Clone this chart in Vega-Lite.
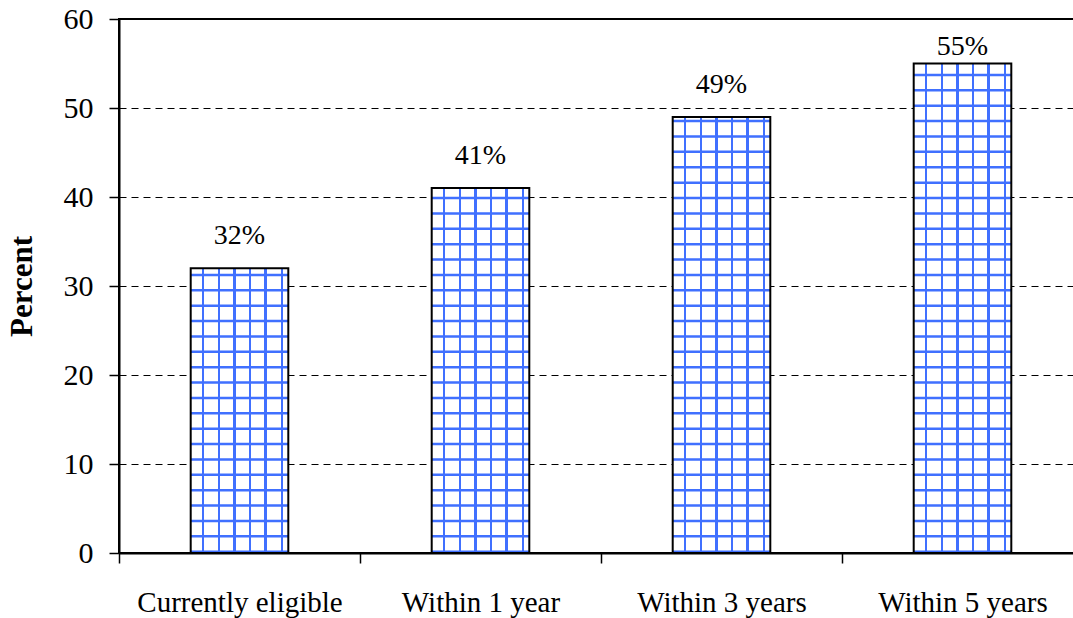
{
  "$schema": "https://vega.github.io/schema/vega-lite/v6.json",
  "width": 964,
  "height": 534,
  "autosize": {"type": "none"},
  "padding": {"left": 119, "top": 19, "right": 0, "bottom": 65},
  "background": "white",
  "config": {
    "view": {"stroke": "black", "strokeWidth": 2},
    "font": "Liberation Serif"
  },
  "data": {
    "values": [
      {"category": "Currently eligible", "value": 32, "label": "32%"},
      {"category": "Within 1 year", "value": 41, "label": "41%"},
      {"category": "Within 3 years", "value": 49, "label": "49%"},
      {"category": "Within 5 years", "value": 55, "label": "55%"}
    ]
  },
  "encoding": {
    "x": {
      "field": "category",
      "type": "nominal",
      "sort": null,
      "scale": {"paddingInner": 0, "paddingOuter": 0},
      "axis": {
        "title": null,
        "labelAngle": 0,
        "labelFont": "Liberation Serif",
        "labelFontSize": 29,
        "labelColor": "black",
        "labelPadding": 25,
        "labelLimit": 0,
        "tickBand": "extent",
        "tickSize": 10,
        "tickColor": "black",
        "tickWidth": 1.5,
        "domainColor": "black",
        "domainWidth": 2,
        "grid": false
      }
    }
  },
  "layer": [
    {
      "mark": {
        "type": "bar",
        "width": 97.6,
        "fill": {
          "gradient": "linear",
          "x1": 0, "x2": 1, "y1": 0, "y2": 0,
          "stops": [
            {"offset": 0, "color": "#ffffff"},
            {"offset": 0.115, "color": "#ffffff"},
            {"offset": 0.115, "color": "#4070ff"},
            {"offset": 0.141, "color": "#4070ff"},
            {"offset": 0.141, "color": "#ffffff"},
            {"offset": 0.277, "color": "#ffffff"},
            {"offset": 0.277, "color": "#4070ff"},
            {"offset": 0.303, "color": "#4070ff"},
            {"offset": 0.303, "color": "#ffffff"},
            {"offset": 0.438, "color": "#ffffff"},
            {"offset": 0.438, "color": "#4070ff"},
            {"offset": 0.464, "color": "#4070ff"},
            {"offset": 0.464, "color": "#ffffff"},
            {"offset": 0.595, "color": "#ffffff"},
            {"offset": 0.595, "color": "#4070ff"},
            {"offset": 0.621, "color": "#4070ff"},
            {"offset": 0.621, "color": "#ffffff"},
            {"offset": 0.755, "color": "#ffffff"},
            {"offset": 0.755, "color": "#4070ff"},
            {"offset": 0.781, "color": "#4070ff"},
            {"offset": 0.781, "color": "#ffffff"},
            {"offset": 0.921, "color": "#ffffff"},
            {"offset": 0.921, "color": "#4070ff"},
            {"offset": 0.947, "color": "#4070ff"},
            {"offset": 0.947, "color": "#ffffff"},
            {"offset": 1, "color": "#ffffff"}
          ]
        }
      },
      "encoding": {
        "y": {
          "field": "value",
          "type": "quantitative",
          "scale": {"domain": [0, 60], "nice": false},
          "axis": {
            "title": "Percent",
            "titleFont": "Liberation Serif",
            "titleFontSize": 31,
            "titleFontWeight": "bold",
            "titleColor": "black",
            "titleAngle": -90,
            "titleAlign": "center",
            "titleBaseline": "middle",
            "titleX": -97,
            "titleY": 267,
            "values": [0, 10, 20, 30, 40, 50, 60],
            "labelFont": "Liberation Serif",
            "labelFontSize": 30,
            "labelColor": "black",
            "labelPadding": 16,
            "tickSize": 10,
            "tickColor": "black",
            "tickWidth": 1.5,
            "domainColor": "black",
            "domainWidth": 2,
            "grid": true,
            "gridColor": "black",
            "gridWidth": 1,
            "gridDash": [7, 5]
          }
        }
      }
    },
    {
      "transform": [{"filter": "datum.value == 32"}],
      "mark": {"type": "rule", "strokeWidth": 97.6, "strokeCap": "butt", "stroke": "#4070ff", "strokeDash": [2.5, 12.88], "strokeDashOffset": 9.92},
      "encoding": {"y": {"field": "value", "type": "quantitative"}, "y2": {"datum": 0}}
    },
    {
      "transform": [{"filter": "datum.value == 41"}],
      "mark": {"type": "rule", "strokeWidth": 97.6, "strokeCap": "butt", "stroke": "#4070ff", "strokeDash": [2.5, 12.88], "strokeDashOffset": 6.72},
      "encoding": {"y": {"field": "value", "type": "quantitative"}, "y2": {"datum": 0}}
    },
    {
      "transform": [{"filter": "datum.value == 49"}],
      "mark": {"type": "rule", "strokeWidth": 97.6, "strokeCap": "butt", "stroke": "#4070ff", "strokeDash": [2.5, 12.88], "strokeDashOffset": 12.42},
      "encoding": {"y": {"field": "value", "type": "quantitative"}, "y2": {"datum": 0}}
    },
    {
      "transform": [{"filter": "datum.value == 55"}],
      "mark": {"type": "rule", "strokeWidth": 97.6, "strokeCap": "butt", "stroke": "#4070ff", "strokeDash": [2.5, 12.88], "strokeDashOffset": 5.16},
      "encoding": {"y": {"field": "value", "type": "quantitative"}, "y2": {"datum": 0}}
    },
    {
      "mark": {
        "type": "bar",
        "width": 97.6,
        "fill": "transparent",
        "stroke": "black",
        "strokeWidth": 2
      },
      "encoding": {
        "y": {"field": "value", "type": "quantitative"}
      }
    },
    {
      "transform": [{"filter": "datum.value < 55"}],
      "mark": {
        "type": "text",
        "baseline": "alphabetic",
        "align": "center",
        "dy": -24,
        "fontSize": 28,
        "font": "Liberation Serif",
        "color": "black"
      },
      "encoding": {
        "y": {"field": "value", "type": "quantitative"},
        "text": {"field": "label"}
      }
    },
    {
      "transform": [{"filter": "datum.value >= 55"}],
      "mark": {
        "type": "text",
        "baseline": "alphabetic",
        "align": "center",
        "dy": -8.5,
        "fontSize": 28,
        "font": "Liberation Serif",
        "color": "black"
      },
      "encoding": {
        "y": {"field": "value", "type": "quantitative"},
        "text": {"field": "label"}
      }
    }
  ]
}
